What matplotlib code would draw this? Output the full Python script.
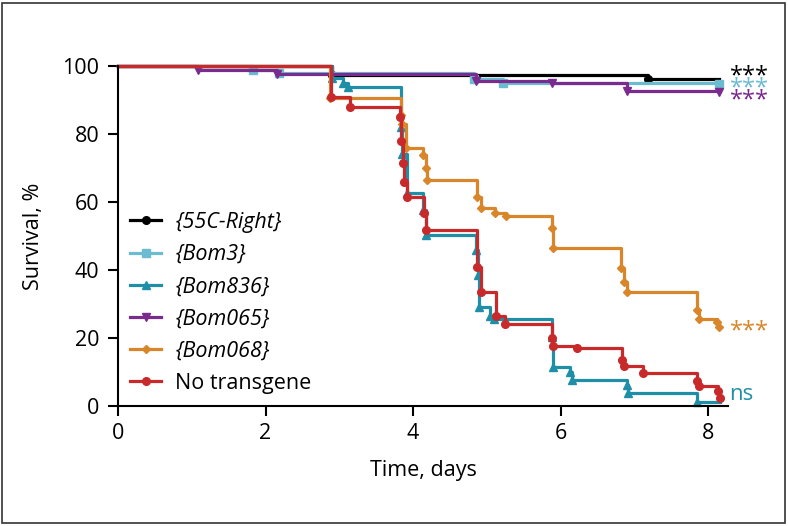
import matplotlib
matplotlib.use("Agg")
import matplotlib.pyplot as plt
from matplotlib.patches import Rectangle
from matplotlib.transforms import offset_copy

plt.rcParams['font.family'] = ['Open Sans', 'DejaVu Sans']

# ---- data ----
labels = ["{55C-Right}", "{Bom3}", "{Bom836}", "{Bom065}", "{Bom068}", "No transgene"]
italic = [True, True, True, True, True, False]
colors = ["#000000", "#6bbcd1", "#1f8fa8", "#7b2a8e", "#d9862a", "#c8292a"]
markers = ["o", "s", "^", "v", "D", "o"]

t_55c = [0, 2.9, 7.18, 8.15]
s_55c = [100, 97.5, 96.1, 96.1]

t_bom3 = [0, 1.83, 2.18, 4.83, 5.22, 8.15]
s_bom3 = [100, 98.8, 97.8, 96.3, 95.0, 94.8]

t_bom836 = [0, 2.9, 3.05, 3.12, 3.83, 3.85, 3.92, 4.13, 4.18, 4.86, 4.88, 4.9,
            5.05, 5.1, 5.88, 5.9, 6.13, 6.16, 6.9, 6.92, 7.85, 8.16]
s_bom836 = [100, 96.5, 95.0, 93.8, 82, 74, 62.6, 57.6, 50.3, 46, 38.5, 29,
            26.5, 25.5, 20.3, 11.5, 10, 7.6, 6.2, 3.8, 1.2, 1.2]

t_bom065 = [0, 1.08, 2.15, 4.85, 5.88, 6.9, 8.15]
s_bom065 = [100, 98.8, 97.6, 95.5, 95.1, 92.6, 92.4]

t_bom068 = [0, 2.88, 3.84, 3.85, 3.9, 4.14, 4.18, 4.19, 4.87, 4.92, 5.11, 5.26,
            5.88, 5.9, 6.82, 6.86, 6.9, 7.85, 7.88, 8.12, 8.15]
s_bom068 = [100, 90.5, 85.6, 83, 76, 73.8, 70, 66.5, 61.5, 58.2, 56.8, 55.9,
            52.4, 46.4, 40.6, 36.5, 33.5, 28.2, 25.5, 24.7, 23.3]

t_none = [0, 2.89, 3.15, 3.82, 3.84, 3.86, 3.88, 3.92, 4.15, 4.18, 4.87, 4.92,
          5.12, 5.24, 5.88, 5.9, 6.22, 6.83, 6.86, 7.12, 7.85, 7.88, 8.13, 8.16]
s_none = [100, 91, 88, 85, 78, 71.5, 66, 61.5, 56.8, 51.8, 41, 33.5,
          26.5, 24, 20, 17.7, 17.2, 13.5, 11.8, 9.7, 7.5, 6, 4.5, 2.4]

times = [t_55c, t_bom3, t_bom836, t_bom065, t_bom068, t_none]
survs = [s_55c, s_bom3, s_bom836, s_bom065, s_bom068, s_none]

sig_text = ["***", "***", "***", "***"]
sig_color = ["#000000", "#6bbcd1", "#7b2a8e", "#d9862a"]
sig_y = [98.2, 94.7, 91.2, 23.2]
ns_text = "ns"
ns_color = "#1f8fa8"
ns_y = 3.3

x_ticks = [0, 2, 4, 6, 8]
y_ticks = [0, 20, 40, 60, 80, 100]

# ---- figure ----
fig = plt.figure(figsize=(7.88, 5.26), dpi=100)
ax = fig.add_axes([118/788, 120/526, 610/788, 340/526])

handles = []
for t, s, c, m, lab in zip(times, survs, colors, markers, labels):
    ax.step(t, s, where='post', color=c, lw=2.3, clip_on=False)
    mx = [t[i] for i in range(1, len(t)) if s[i] != s[i-1]]
    my = [s[i] for i in range(1, len(t)) if s[i] != s[i-1]]
    ms = 4.5 if m == 'D' else 5.5
    ax.plot(mx, my, ls='none', marker=m, color=c, ms=ms, clip_on=False)
    h, = ax.plot([], [], color=c, lw=2.3, marker=m, ms=ms, label=lab)
    handles.append(h)

# significance stars: asterisk glyph sits high, so place baseline below the centre
star_fs = 17
for txt, c, y in zip(sig_text, sig_color, sig_y):
    tr = offset_copy(ax.transData, fig=fig, x=0, y=-0.43 * star_fs, units='points')
    ax.text(8.3, y, txt, color=c, fontsize=star_fs, va='baseline', ha='left', transform=tr)
ax.text(8.29, ns_y, ns_text, color=ns_color, fontsize=16, va='center', ha='left')

ax.set_xlim(0, 8.27)
ax.set_ylim(0, 100)
ax.set_xticks(x_ticks)
ax.set_yticks(y_ticks)
for sp in ['top', 'right']:
    ax.spines[sp].set_visible(False)
for sp in ['left', 'bottom']:
    ax.spines[sp].set_linewidth(1.5)
ax.tick_params(axis='both', direction='out', length=7.5, width=1.5, labelsize=15.5)
ax.tick_params(axis='y', pad=6)
ax.tick_params(axis='x', pad=5)
ax.set_xlabel("Time, days", fontsize=15.5, labelpad=11)
ax.set_ylabel("Survival, %", fontsize=15.5, labelpad=13)

leg = ax.legend(handles=handles, loc='upper left', bbox_to_anchor=(-0.005, 0.615),
                frameon=False, fontsize=15.5, handlelength=1.45, labelspacing=0.52,
                handletextpad=0.65, borderaxespad=0.3)
for txt, it in zip(leg.get_texts(), italic):
    if it:
        txt.set_style('italic')

fig.patches.append(Rectangle((0.003, 0.005), 0.993, 0.99, transform=fig.transFigure,
                             fill=False, edgecolor='#333333', lw=1.2))

fig.savefig("out.png", dpi=100)
